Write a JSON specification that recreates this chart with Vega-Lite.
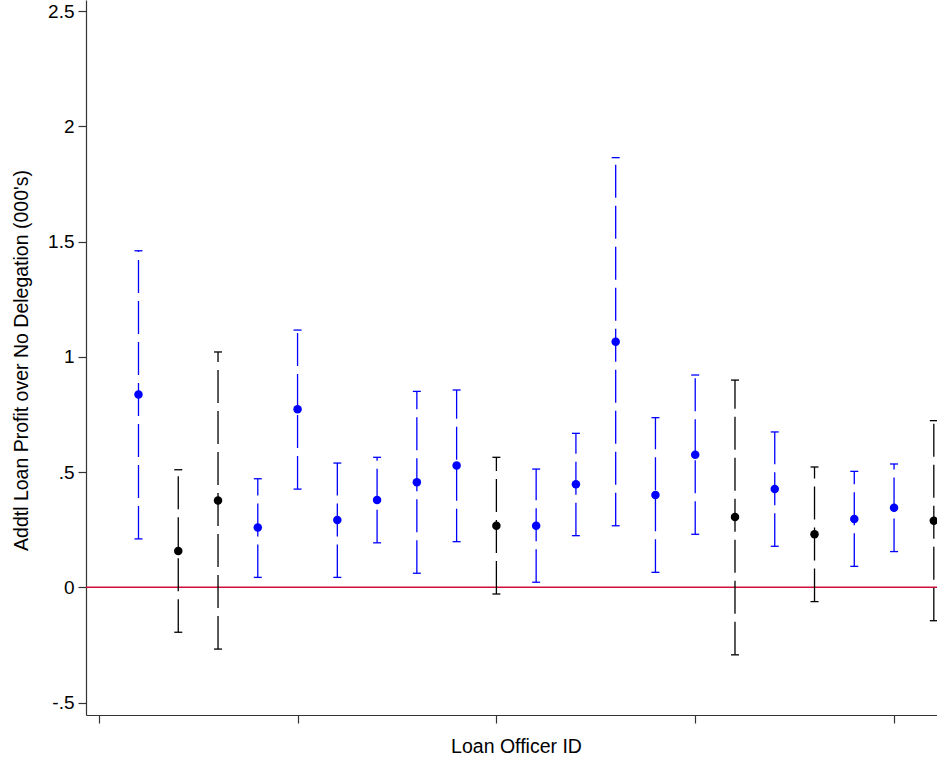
{
  "$schema": "https://vega.github.io/schema/vega-lite/v6.json",
  "width": 851,
  "height": 715,
  "autosize": {"type": "none"},
  "padding": {"left": 86, "top": 0, "right": 0, "bottom": 44},
  "background": "white",
  "config": {"view": {"stroke": null}, "font": "Liberation Sans"},
  "datasets": {
    "ci": [
      {"id": 1, "sig": "yes", "est": 0.836, "lo": 0.210, "hi": 1.460},
      {"id": 2, "sig": "no", "est": 0.157, "lo": -0.195, "hi": 0.510},
      {"id": 3, "sig": "no", "est": 0.377, "lo": -0.268, "hi": 1.021},
      {"id": 4, "sig": "yes", "est": 0.259, "lo": 0.043, "hi": 0.471},
      {"id": 5, "sig": "yes", "est": 0.772, "lo": 0.426, "hi": 1.116},
      {"id": 6, "sig": "yes", "est": 0.292, "lo": 0.043, "hi": 0.539},
      {"id": 7, "sig": "yes", "est": 0.379, "lo": 0.193, "hi": 0.564},
      {"id": 8, "sig": "yes", "est": 0.456, "lo": 0.061, "hi": 0.850},
      {"id": 9, "sig": "yes", "est": 0.528, "lo": 0.198, "hi": 0.856},
      {"id": 10, "sig": "no", "est": 0.267, "lo": -0.029, "hi": 0.564},
      {"id": 11, "sig": "yes", "est": 0.267, "lo": 0.022, "hi": 0.513},
      {"id": 12, "sig": "yes", "est": 0.447, "lo": 0.224, "hi": 0.668},
      {"id": 13, "sig": "yes", "est": 1.065, "lo": 0.267, "hi": 1.864},
      {"id": 14, "sig": "yes", "est": 0.400, "lo": 0.065, "hi": 0.736},
      {"id": 15, "sig": "yes", "est": 0.575, "lo": 0.230, "hi": 0.921},
      {"id": 16, "sig": "no", "est": 0.305, "lo": -0.293, "hi": 0.899},
      {"id": 17, "sig": "yes", "est": 0.426, "lo": 0.178, "hi": 0.674},
      {"id": 18, "sig": "no", "est": 0.230, "lo": -0.062, "hi": 0.522},
      {"id": 19, "sig": "yes", "est": 0.296, "lo": 0.091, "hi": 0.503},
      {"id": 20, "sig": "yes", "est": 0.345, "lo": 0.155, "hi": 0.535},
      {"id": 21, "sig": "no", "est": 0.289, "lo": -0.145, "hi": 0.723}
    ],
    "ref": [{"v": 0}]
  },
  "layer": [
    {
      "data": {"name": "ref"},
      "mark": {"type": "rule", "color": "#d0103a", "strokeWidth": 1.6},
      "encoding": {
        "y": {
          "field": "v", "type": "quantitative",
          "scale": {"domain": [-0.554, 2.548], "nice": false, "zero": false},
          "axis": {
            "title": "Addtl Loan Profit over No Delegation (000's)",
            "values": [-0.5, 0, 0.5, 1, 1.5, 2, 2.5],
            "labelExpr": "replace(toString(datum.value), '0.', '.')",
            "grid": false,
            "domainColor": "#333", "domainWidth": 1.2,
            "tickColor": "#333", "tickWidth": 1.2, "tickSize": 8,
            "labelPadding": 4, "labelFontSize": 19, "labelColor": "#000",
            "labelFont": "Liberation Sans", "labelFlush": false, "labelOverlap": false,
            "titleFont": "Liberation Sans", "titleFontSize": 19.5, "titleFontWeight": "normal",
            "titleColor": "#000", "titleAngle": -90, "titleX": -59, "titleY": 360,
            "titleAlign": "center", "titleBaseline": "alphabetic"
          }
        }
      }
    },
    {
      "data": {"name": "ci"},
      "layer": [
        {
          "mark": {"type": "rule", "strokeWidth": 1.3, "strokeDash": [33, 8], "clip": true},
          "encoding": {
            "y": {"field": "lo", "type": "quantitative"},
            "y2": {"field": "hi"}
          }
        },
        {
          "mark": {"type": "tick", "orient": "horizontal", "size": 8, "thickness": 1.3, "clip": true, "opacity": 1},
          "encoding": {"y": {"field": "lo", "type": "quantitative"}}
        },
        {
          "mark": {"type": "tick", "orient": "horizontal", "size": 8, "thickness": 1.3, "clip": true, "opacity": 1},
          "encoding": {"y": {"field": "hi", "type": "quantitative"}}
        },
        {
          "mark": {"type": "circle", "size": 72, "opacity": 1, "clip": true},
          "encoding": {"y": {"field": "est", "type": "quantitative"}}
        }
      ],
      "encoding": {
        "x": {
          "field": "id", "type": "quantitative",
          "scale": {"domain": [-0.32, 21.08], "nice": false, "zero": false},
          "axis": {
            "title": "Loan Officer ID",
            "values": [0, 5, 10, 15, 20],
            "labels": false, "grid": false,
            "domainColor": "#333", "domainWidth": 1.2,
            "tickColor": "#333", "tickWidth": 1.2, "tickSize": 8,
            "titleFont": "Liberation Sans", "titleFontSize": 19.5, "titleFontWeight": "normal",
            "titleColor": "#000", "titleX": 430, "titleY": 37,
            "titleAlign": "center", "titleBaseline": "alphabetic"
          }
        },
        "color": {
          "field": "sig", "type": "nominal",
          "scale": {"domain": ["yes", "no"], "range": ["#0000ff", "#000000"]},
          "legend": null
        }
      }
    }
  ]
}
